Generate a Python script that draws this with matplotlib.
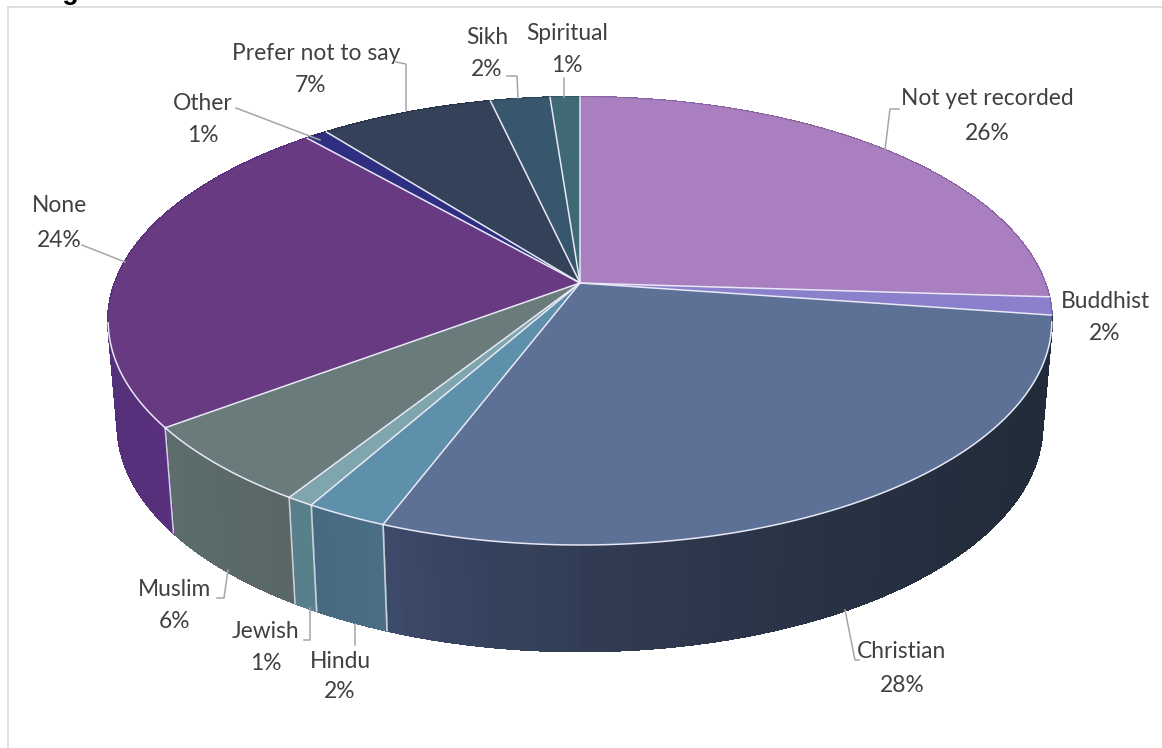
import numpy as np
import matplotlib
matplotlib.use("Agg")
import matplotlib.pyplot as plt
from matplotlib.collections import PolyCollection
from matplotlib.colors import to_rgb

# slices, clockwise from 12 o'clock
names = ['Not yet recorded', 'Buddhist', 'Christian', 'Hindu', 'Jewish', 'Muslim',
         'None', 'Other', 'Prefer not to say', 'Sikh', 'Spiritual']
shares = [26.0, 1.3, 28.5, 2.4, 0.8, 5.8, 23.7, 0.9, 7.0, 2.4, 1.2]
pct_labels = ['26%', '2%', '28%', '2%', '1%', '6%', '24%', '1%', '7%', '2%', '1%']
top_colors = ['#a97fc0', '#8a80cc', '#5d7096', '#5f90ab', '#7fa6ad', '#6a7b7c',
              '#683a82', '#2e2f80', '#334258', '#36576c', '#3f6a75']
side_left = ['#8a66a0', '#6f66a8', '#414e70', '#47697f', '#58808a', '#5d6e6e',
             '#55307a', '#25266a', '#2a3648', '#2c4759', '#335761']
side_right = ['#8a66a0', '#6f66a8', '#222b39', '#4b6e85', '#58808a', '#596766',
              '#5c3080', '#25266a', '#2a3648', '#2c4759', '#335761']

# label centres in pixels
label_pos = [(987, 98), (1105, 301), (902, 652), (340, 661), (266, 631), (175, 590),
             (59, 205), (203, 103), (316, 53), (487, 37), (567, 33)]
pct_pos = [(987, 133), (1105, 333), (902, 685), (340, 692), (266, 664), (175, 622),
           (59, 240), (203, 135), (310, 85), (487, 69), (567, 65)]
leaders = [[(885, 150), (890, 109), (899, 109)],
           [],
           [(845, 610), (855, 660), (859, 660)],
           [(355, 624), (355, 645)],
           [(310, 608), (310, 640), (304, 640)],
           [(228, 570), (224, 598), (217, 598)],
           [(82, 245), (125, 262)],
           [(236, 108), (320, 140)],
           [(396, 62), (406, 64), (406, 110)],
           [(518, 98), (517, 76), (507, 76)],
           [(564, 97), (564, 78)]]

# perspective of the pie disc
CX, APEX_Y = 580, 283
A, C, D = -169.55, 0.1696, 465
ELL_Y = 321       # middle of the top ellipse
SIDE_Y = 425      # middle of the bottom ellipse
RIM = '#e8e8f6'


def project(theta):
    x = np.sin(theta)
    y = np.cos(theta)
    w = 1 + C * y
    return CX + D * x / w, (A * y + APEX_Y) / w


def drop(px, py):
    return CX + (px - CX) * 0.98, SIDE_Y + (py - ELL_Y) * 1.01


plt.rcParams['font.family'] = ['Lato', 'DejaVu Sans']
fig = plt.figure(figsize=(11.62, 7.48), dpi=100)
ax = fig.add_axes([0, 0, 1, 1])
ax.set_xlim(0, 1162)
ax.set_ylim(748, 0)
ax.axis('off')

edges = np.cumsum([0] + shares) / sum(shares) * 2 * np.pi

# side wall first, the top covers the hidden part
for i in range(len(shares)):
    th = np.linspace(edges[i], edges[i + 1], 60)
    px, py = project(th)
    bx, by = drop(px, py)
    polys = []
    cols = []
    c0 = np.array(to_rgb(side_left[i]))
    c1 = np.array(to_rgb(side_right[i]))
    for j in range(len(th) - 1):
        polys.append([(px[j], py[j]), (px[j + 1], py[j + 1]), (bx[j + 1], by[j + 1]), (bx[j], by[j])])
        t = (px[j] - px.min()) / max(px.max() - px.min(), 1)
        cols.append(c0 + (c1 - c0) * t ** 0.6)
    ax.add_collection(PolyCollection(polys, facecolors=cols, edgecolors=cols, linewidths=1.0,
                                     antialiaseds=False, zorder=1))
    if py[-1] > ELL_Y and i < len(shares) - 1:
        ax.plot([px[-1], bx[-1]], [py[-1], by[-1]], color='#c9d0dc', lw=1.2, zorder=2)

# top of the pie, rim line only on the front half
for i in range(len(shares)):
    th = np.linspace(edges[i], edges[i + 1], 120)
    px, py = project(th)
    xs = np.concatenate([[CX], px])
    ys = np.concatenate([[APEX_Y], py])
    ax.fill(xs, ys, facecolor=top_colors[i], edgecolor='none', zorder=3)
for i in range(len(shares)):
    th = np.linspace(edges[i], edges[i + 1], 120)
    px, py = project(th)
    ax.plot([CX, px[0]], [APEX_Y, py[0]], color=RIM, lw=1.1, zorder=4)
    front = py > ELL_Y
    ax.plot(px[front], py[front], color=RIM, lw=1.1, zorder=4)

for i in range(len(names)):
    ax.text(label_pos[i][0], label_pos[i][1], names[i], ha='center', va='center',
            fontsize=16.4, color='#404040', zorder=5)
    ax.text(pct_pos[i][0], pct_pos[i][1], pct_labels[i], ha='center', va='center',
            fontsize=16.4, color='#404040', zorder=5)
    if leaders[i]:
        lx, ly = zip(*leaders[i])
        ax.plot(lx, ly, color='#a6a6a6', lw=1.1, zorder=4)

# chart frame and the cut off heading
ax.plot([8, 8], [7, 748], color='#d9d9d9', lw=1.2)
ax.plot([8, 1162], [7, 7], color='#d9d9d9', lw=1.2)
ax.text(13, -1, 'Religion', family='Liberation Sans', fontweight='bold', fontsize=19.4,
        color='black', ha='left', va='baseline', clip_on=False)

fig.savefig('out.png', dpi=100)
